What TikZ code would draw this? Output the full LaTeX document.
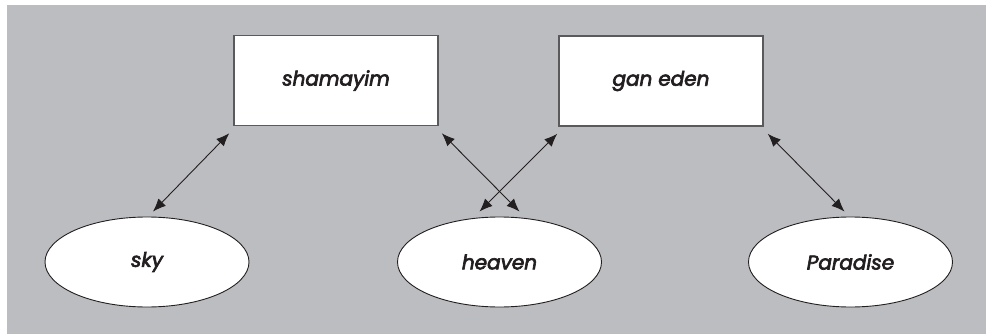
\documentclass[tikz,border=0pt]{standalone}
\usepackage{fontspec}
\setmainfont{Poppins}[ItalicFeatures={FakeBold=3.2}]
\usetikzlibrary{arrows.meta,shapes.geometric}
\definecolor{panel}{HTML}{BCBDC1}
\definecolor{ink}{HTML}{231F20}
\definecolor{edge}{HTML}{5A5A5C}
\tikzset{
  term/.style={draw=edge, line width=1.6pt, fill=white, minimum width=204pt, minimum height=90pt,
    inner sep=0pt, font=\fontsize{20}{24}\selectfont\itshape, text=ink},
  gloss/.style={draw=ink, line width=0.9pt, fill=white, ellipse, minimum width=204pt, minimum height=90pt,
    inner sep=0pt, font=\fontsize{20}{24}\selectfont\itshape, text=ink},
  link/.style={draw=ink, line width=0.9pt, {Latex[length=13pt,width=10.5pt]}-{Latex[length=13pt,width=10.5pt]}}
}
\begin{document}
\begin{tikzpicture}[x=1pt,y=-1pt]
  \useasboundingbox (0,0) rectangle (986,334);
  \fill[panel] (7,5) rectangle (986,334);

  \node[term] (sham) at (336,80.5) {shamayim};
  \node[term] (gan) at (661,81) {gan eden};

  \node[gloss] (sky) at (147,262) {sky};
  \node[gloss] (heaven) at (499.5,262) {heaven};
  \node[gloss] (para) at (850.5,262) {Paradise};

  % arrow ends, set a little clear of the nodes
  \coordinate (s1) at ([shift={(-4,7)}]sham.south west);
  \coordinate (s2) at ([shift={(3,7)}]sham.south east);
  \coordinate (g1) at ([shift={(-1,7)}]gan.south west);
  \coordinate (g2) at ([shift={(4,7)}]gan.south east);
  \coordinate (k1) at ([shift={(6,-5)}]sky.north);
  \coordinate (h1) at ([shift={(20,-5)}]heaven.north);
  \coordinate (h2) at ([shift={(-20,-5)}]heaven.north);
  \coordinate (p1) at ([shift={(-6,-5)}]para.north);

  \draw[link] (s1) -- (k1);
  \draw[link] (s2) -- (h1);
  \draw[link] (g1) -- (h2);
  \draw[link] (g2) -- (p1);
\end{tikzpicture}
\end{document}
